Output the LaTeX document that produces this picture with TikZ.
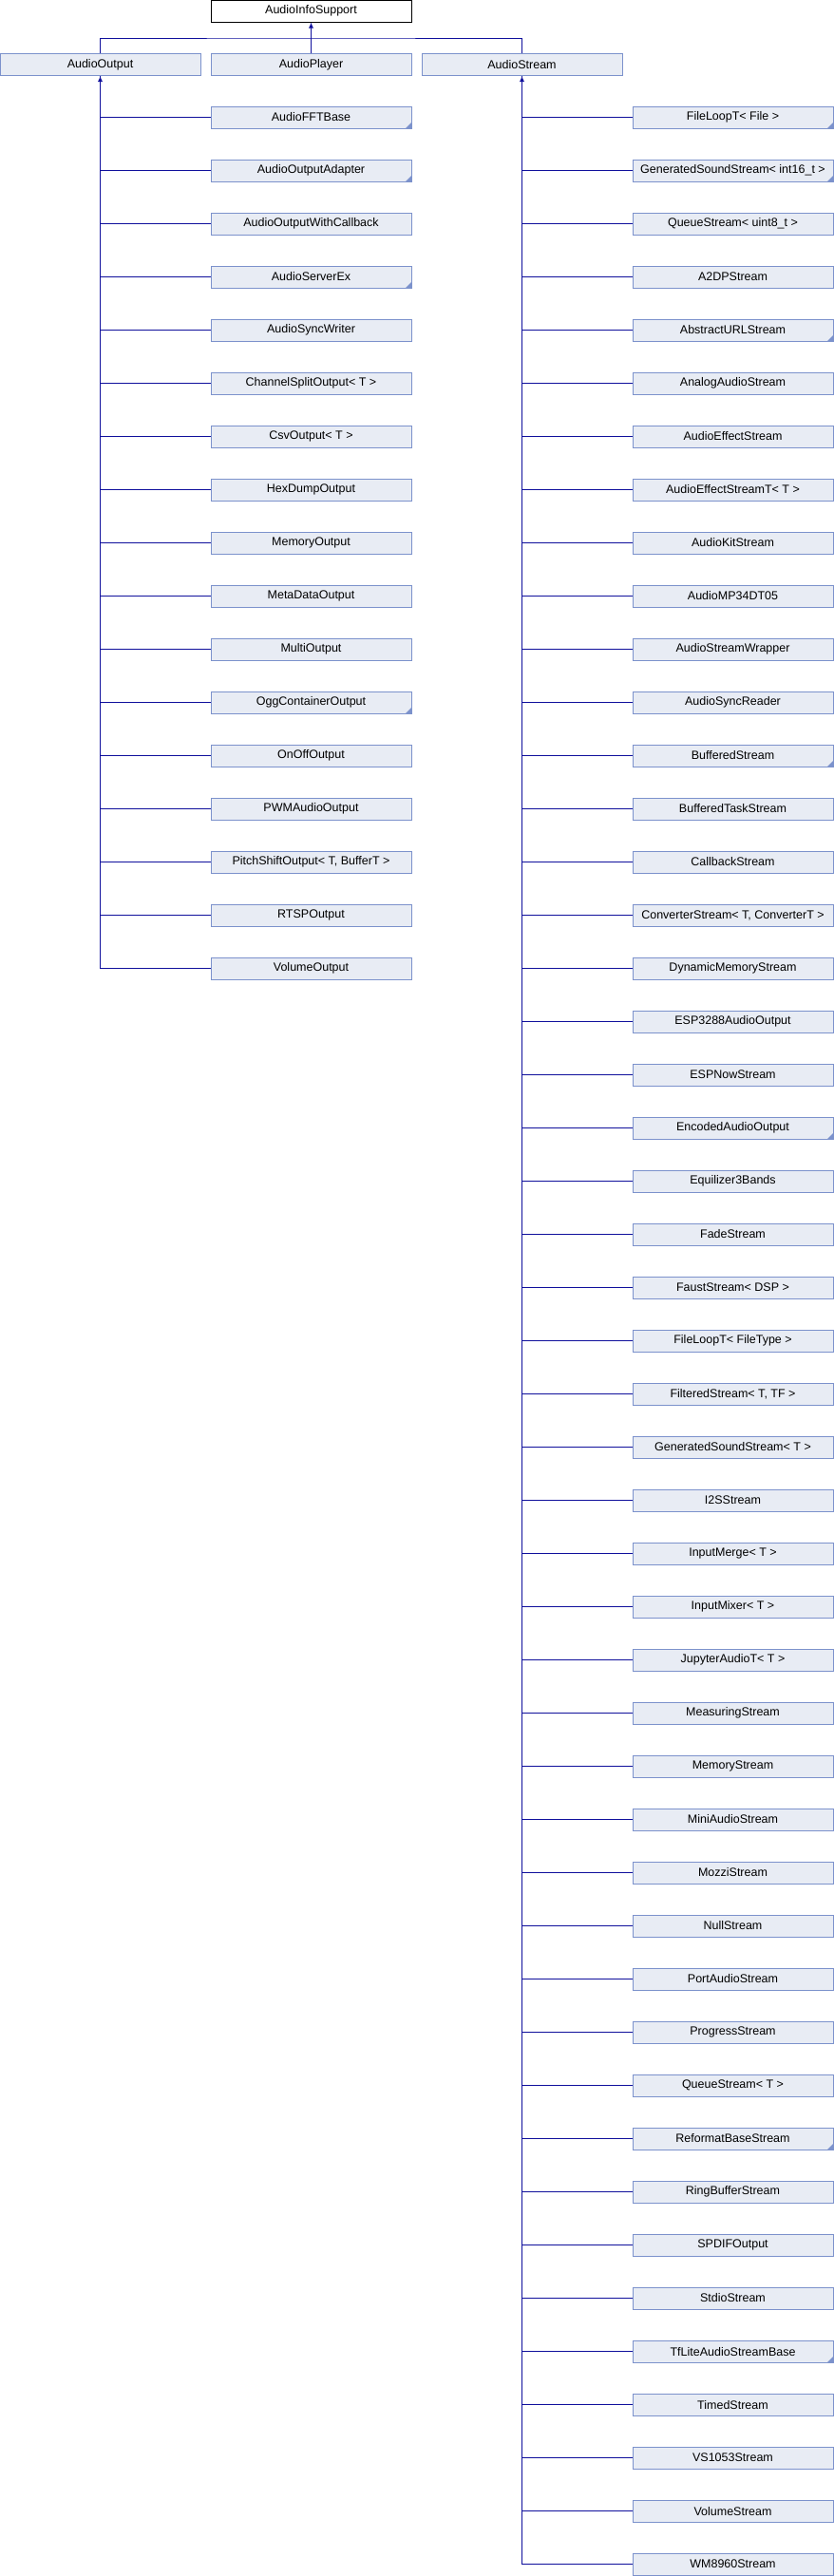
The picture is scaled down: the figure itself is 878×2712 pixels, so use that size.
\documentclass[tikz,border=0pt]{standalone}
\usepackage{fontspec}
\setmainfont{Liberation Sans}
\usepackage{tikz}
\usetikzlibrary{arrows.meta}
\usetikzlibrary{positioning}

\definecolor{boxfill}{RGB}{232,236,244}
\definecolor{boxline}{RGB}{124,146,204}
\definecolor{edgecol}{RGB}{16,16,156}

\begin{document}
\begin{tikzpicture}[x=1pt, y=-1pt,
  every node/.style={draw=boxline, fill=boxfill, line width=1pt, minimum width=211pt, minimum height=23pt, inner sep=0pt, font=\fontsize{12.5}{15}\selectfont},
  root/.style={draw=black, fill=white},
  more/.style={path picture={\fill[boxline] (path picture bounding box.south east) -- ++(-6,0) -- ++(6,-6) -- cycle;}},
  edge/.style={draw=edgecol, line width=1pt},
  inh/.style={edge, -{Latex[length=6pt,width=5pt]}}]
\useasboundingbox (0,0) rectangle (878,2712);
\node[root] (AudioInfoSupport) at (327.5,11.5) {AudioInfoSupport};
\node (AudioOutput) at (105.5,68) {AudioOutput};
\node (AudioPlayer) at (327.5,68) {AudioPlayer};
\node (AudioStream) at (549.5,68) {AudioStream};
\draw[inh] (AudioPlayer.north) -- (AudioInfoSupport.south);
\draw[edge] (AudioOutput.north) |- (327.5,40) -| (AudioStream.north);
% AudioOutput
\node[more] (AudioFFTBase) at (327.5,123.5) {AudioFFTBase};
\node[more] (AudioOutputAdapter) at (327.5,179.5) {AudioOutputAdapter};
\node (AudioOutputWithCallback) at (327.5,235.5) {AudioOutputWithCallback};
\node[more] (AudioServerEx) at (327.5,291.5) {AudioServerEx};
\node (AudioSyncWriter) at (327.5,347.5) {AudioSyncWriter};
\node (ChannelSplitOutput) at (327.5,403.5) {ChannelSplitOutput< T >};
\node (CsvOutput) at (327.5,459.5) {CsvOutput< T >};
\node (HexDumpOutput) at (327.5,515.5) {HexDumpOutput};
\node (MemoryOutput) at (327.5,571.5) {MemoryOutput};
\node (MetaDataOutput) at (327.5,627.5) {MetaDataOutput};
\node (MultiOutput) at (327.5,683.5) {MultiOutput};
\node[more] (OggContainerOutput) at (327.5,739.5) {OggContainerOutput};
\node (OnOffOutput) at (327.5,795.5) {OnOffOutput};
\node (PWMAudioOutput) at (327.5,851.5) {PWMAudioOutput};
\node (PitchShiftOutput) at (327.5,907.5) {PitchShiftOutput< T, BufferT >};
\node (RTSPOutput) at (327.5,963.5) {RTSPOutput};
\node (VolumeOutput) at (327.5,1019.5) {VolumeOutput};
\draw[edge] (AudioOutput.south) |- (AudioFFTBase.west);
\draw[edge] (AudioOutput.south) |- (AudioOutputAdapter.west);
\draw[edge] (AudioOutput.south) |- (AudioOutputWithCallback.west);
\draw[edge] (AudioOutput.south) |- (AudioServerEx.west);
\draw[edge] (AudioOutput.south) |- (AudioSyncWriter.west);
\draw[edge] (AudioOutput.south) |- (ChannelSplitOutput.west);
\draw[edge] (AudioOutput.south) |- (CsvOutput.west);
\draw[edge] (AudioOutput.south) |- (HexDumpOutput.west);
\draw[edge] (AudioOutput.south) |- (MemoryOutput.west);
\draw[edge] (AudioOutput.south) |- (MetaDataOutput.west);
\draw[edge] (AudioOutput.south) |- (MultiOutput.west);
\draw[edge] (AudioOutput.south) |- (OggContainerOutput.west);
\draw[edge] (AudioOutput.south) |- (OnOffOutput.west);
\draw[edge] (AudioOutput.south) |- (PWMAudioOutput.west);
\draw[edge] (AudioOutput.south) |- (PitchShiftOutput.west);
\draw[edge] (AudioOutput.south) |- (RTSPOutput.west);
\draw[inh] (VolumeOutput.west) -| (AudioOutput.south);
% AudioStream
\node[more] (FileLoopTFile) at (771.5,123.5) {FileLoopT< File >};
\node[more] (GeneratedSoundStreamInt) at (771.5,179.5) {GeneratedSoundStream< int16\_t >};
\node (QueueStreamUint) at (771.5,235.5) {QueueStream< uint8\_t >};
\node (A2DPStream) at (771.5,291.5) {A2DPStream};
\node[more] (AbstractURLStream) at (771.5,347.5) {AbstractURLStream};
\node (AnalogAudioStream) at (771.5,403.5) {AnalogAudioStream};
\node (AudioEffectStream) at (771.5,459.5) {AudioEffectStream};
\node (AudioEffectStreamT) at (771.5,515.5) {AudioEffectStreamT< T >};
\node (AudioKitStream) at (771.5,571.5) {AudioKitStream};
\node (AudioMP34DT05) at (771.5,627.5) {AudioMP34DT05};
\node (AudioStreamWrapper) at (771.5,683.5) {AudioStreamWrapper};
\node (AudioSyncReader) at (771.5,739.5) {AudioSyncReader};
\node[more] (BufferedStream) at (771.5,795.5) {BufferedStream};
\node (BufferedTaskStream) at (771.5,851.5) {BufferedTaskStream};
\node (CallbackStream) at (771.5,907.5) {CallbackStream};
\node (ConverterStream) at (771.5,963.5) {ConverterStream< T, ConverterT >};
\node (DynamicMemoryStream) at (771.5,1019.5) {DynamicMemoryStream};
\node (ESP3288AudioOutput) at (771.5,1075.5) {ESP3288AudioOutput};
\node (ESPNowStream) at (771.5,1131.5) {ESPNowStream};
\node[more] (EncodedAudioOutput) at (771.5,1187.5) {EncodedAudioOutput};
\node (Equilizer3Bands) at (771.5,1243.5) {Equilizer3Bands};
\node (FadeStream) at (771.5,1299.5) {FadeStream};
\node (FaustStream) at (771.5,1355.5) {FaustStream< DSP >};
\node (FileLoopT) at (771.5,1411.5) {FileLoopT< FileType >};
\node (FilteredStream) at (771.5,1467.5) {FilteredStream< T, TF >};
\node (GeneratedSoundStream) at (771.5,1523.5) {GeneratedSoundStream< T >};
\node (I2SStream) at (771.5,1579.5) {I2SStream};
\node (InputMerge) at (771.5,1635.5) {InputMerge< T >};
\node (InputMixer) at (771.5,1691.5) {InputMixer< T >};
\node (JupyterAudioT) at (771.5,1747.5) {JupyterAudioT< T >};
\node (MeasuringStream) at (771.5,1803.5) {MeasuringStream};
\node (MemoryStream) at (771.5,1859.5) {MemoryStream};
\node (MiniAudioStream) at (771.5,1915.5) {MiniAudioStream};
\node (MozziStream) at (771.5,1971.5) {MozziStream};
\node (NullStream) at (771.5,2027.5) {NullStream};
\node (PortAudioStream) at (771.5,2083.5) {PortAudioStream};
\node (ProgressStream) at (771.5,2139.5) {ProgressStream};
\node (QueueStream) at (771.5,2195.5) {QueueStream< T >};
\node[more] (ReformatBaseStream) at (771.5,2251.5) {ReformatBaseStream};
\node (RingBufferStream) at (771.5,2307.5) {RingBufferStream};
\node (SPDIFOutput) at (771.5,2363.5) {SPDIFOutput};
\node (StdioStream) at (771.5,2419.5) {StdioStream};
\node[more] (TfLiteAudioStreamBase) at (771.5,2475.5) {TfLiteAudioStreamBase};
\node (TimedStream) at (771.5,2531.5) {TimedStream};
\node (VS1053Stream) at (771.5,2587.5) {VS1053Stream};
\node (VolumeStream) at (771.5,2643.5) {VolumeStream};
\node (WM8960Stream) at (771.5,2699.5) {WM8960Stream};
\draw[edge] (AudioStream.south) |- (FileLoopTFile.west);
\draw[edge] (AudioStream.south) |- (GeneratedSoundStreamInt.west);
\draw[edge] (AudioStream.south) |- (QueueStreamUint.west);
\draw[edge] (AudioStream.south) |- (A2DPStream.west);
\draw[edge] (AudioStream.south) |- (AbstractURLStream.west);
\draw[edge] (AudioStream.south) |- (AnalogAudioStream.west);
\draw[edge] (AudioStream.south) |- (AudioEffectStream.west);
\draw[edge] (AudioStream.south) |- (AudioEffectStreamT.west);
\draw[edge] (AudioStream.south) |- (AudioKitStream.west);
\draw[edge] (AudioStream.south) |- (AudioMP34DT05.west);
\draw[edge] (AudioStream.south) |- (AudioStreamWrapper.west);
\draw[edge] (AudioStream.south) |- (AudioSyncReader.west);
\draw[edge] (AudioStream.south) |- (BufferedStream.west);
\draw[edge] (AudioStream.south) |- (BufferedTaskStream.west);
\draw[edge] (AudioStream.south) |- (CallbackStream.west);
\draw[edge] (AudioStream.south) |- (ConverterStream.west);
\draw[edge] (AudioStream.south) |- (DynamicMemoryStream.west);
\draw[edge] (AudioStream.south) |- (ESP3288AudioOutput.west);
\draw[edge] (AudioStream.south) |- (ESPNowStream.west);
\draw[edge] (AudioStream.south) |- (EncodedAudioOutput.west);
\draw[edge] (AudioStream.south) |- (Equilizer3Bands.west);
\draw[edge] (AudioStream.south) |- (FadeStream.west);
\draw[edge] (AudioStream.south) |- (FaustStream.west);
\draw[edge] (AudioStream.south) |- (FileLoopT.west);
\draw[edge] (AudioStream.south) |- (FilteredStream.west);
\draw[edge] (AudioStream.south) |- (GeneratedSoundStream.west);
\draw[edge] (AudioStream.south) |- (I2SStream.west);
\draw[edge] (AudioStream.south) |- (InputMerge.west);
\draw[edge] (AudioStream.south) |- (InputMixer.west);
\draw[edge] (AudioStream.south) |- (JupyterAudioT.west);
\draw[edge] (AudioStream.south) |- (MeasuringStream.west);
\draw[edge] (AudioStream.south) |- (MemoryStream.west);
\draw[edge] (AudioStream.south) |- (MiniAudioStream.west);
\draw[edge] (AudioStream.south) |- (MozziStream.west);
\draw[edge] (AudioStream.south) |- (NullStream.west);
\draw[edge] (AudioStream.south) |- (PortAudioStream.west);
\draw[edge] (AudioStream.south) |- (ProgressStream.west);
\draw[edge] (AudioStream.south) |- (QueueStream.west);
\draw[edge] (AudioStream.south) |- (ReformatBaseStream.west);
\draw[edge] (AudioStream.south) |- (RingBufferStream.west);
\draw[edge] (AudioStream.south) |- (SPDIFOutput.west);
\draw[edge] (AudioStream.south) |- (StdioStream.west);
\draw[edge] (AudioStream.south) |- (TfLiteAudioStreamBase.west);
\draw[edge] (AudioStream.south) |- (TimedStream.west);
\draw[edge] (AudioStream.south) |- (VS1053Stream.west);
\draw[edge] (AudioStream.south) |- (VolumeStream.west);
\draw[inh] (WM8960Stream.west) -| (AudioStream.south);
\end{tikzpicture}
\end{document}
